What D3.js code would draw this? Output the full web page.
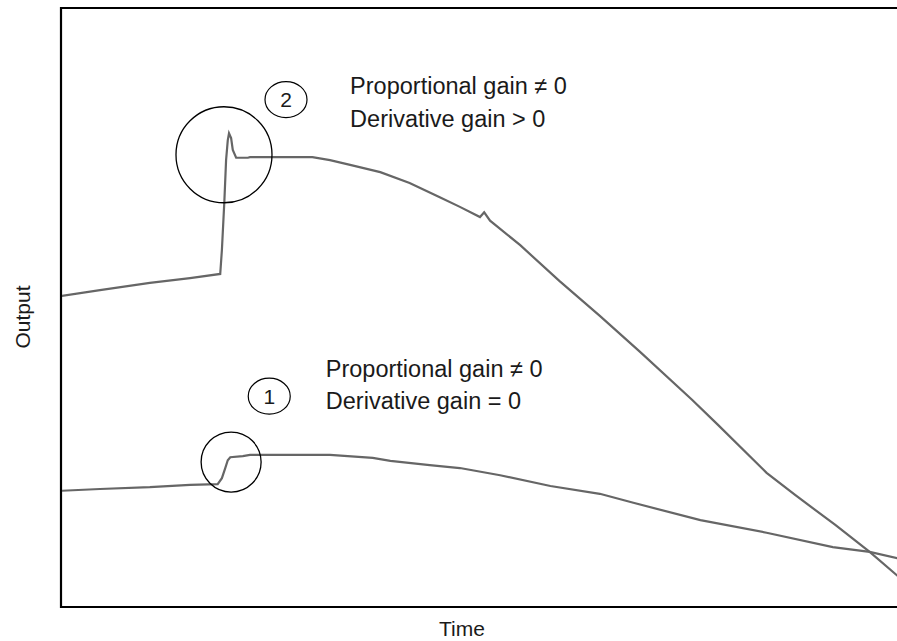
<!DOCTYPE html>
<html>
<head>
<meta charset="utf-8">
<script src="https://cdn.jsdelivr.net/npm/d3@7"></script>
<style>
  html, body { margin: 0; padding: 0; background: #fff; overflow: hidden; }
  svg { display: block; overflow: hidden; }
  text { font-family: "Liberation Sans", Arial, sans-serif; fill: #1a1a1a; }
</style>
</head>
<body>
<script>
// ---- data (time and output in arbitrary units, 0-100) ----
const timeD = [0, 4.65, 10.6, 15.4, 19.0, 19.2, 19.5, 19.7, 19.9, 20.05, 20.3, 20.5, 20.9, 22.3, 22.55, 30.0, 32.1, 34.5, 38.1, 41.6, 45.2, 47.6, 50.0, 50.5, 51.2, 54.8, 59.5, 64.3, 69.1, 75.3, 78.4, 84.2, 87.6, 92.4, 96.5, 100];
const outputD = [51.9, 52.9, 54.1, 54.9, 55.6, 59.6, 67.9, 74.6, 77.9, 79.1, 78.3, 76.3, 75.0, 75.0, 75.1, 75.1, 74.6, 73.8, 72.6, 70.8, 68.4, 66.8, 65.1, 65.9, 64.5, 60.4, 54.4, 48.6, 42.6, 34.6, 30.4, 22.4, 18.7, 13.7, 9.2, 5.0];

const timeP = [0, 4.65, 10.6, 15.4, 18.7, 19.2, 19.6, 19.9, 20.2, 21.7, 22.55, 32.1, 37.2, 39.3, 44.0, 47.6, 52.4, 58.4, 64.3, 68.3, 76.3, 84.2, 92.1, 96.5, 100];
const outputP = [19.4, 19.7, 20.0, 20.4, 20.5, 21.5, 23.2, 24.5, 25.0, 25.2, 25.4, 25.4, 24.9, 24.4, 23.7, 23.2, 22.0, 20.2, 18.9, 17.4, 14.5, 12.4, 10.0, 9.2, 8.1];

// annotations
const highlightT = [19.45, 20.3];
const highlightV = [75.5, 24.2];
const highlightR = [48, 30];
const badgeLabels = ["2", "1"];
const badgeT = [26.85, 24.85];
const badgeV = [84.7, 35.2];
const noteLines = [["Proportional gain \u2260 0", "Derivative gain > 0"], ["Proportional gain \u2260 0", "Derivative gain = 0"]];
const noteT = [34.5, 31.6];
const noteV = [[85.6, 80.1], [38.4, 33.1]];

const W = 897, H = 641;
const svg = d3.select("body").append("svg").attr("width", W).attr("height", H);

const x = d3.scaleLinear().domain([0, 100]).range([61, 899]);
const y = d3.scaleLinear().domain([0, 100]).range([607, 8]);

// frame: left, top, bottom (right edge runs off the picture)
const frame = d3.path();
frame.moveTo(x(100) + 10, y(100));
frame.lineTo(x(0), y(100));
frame.lineTo(x(0), y(0));
frame.lineTo(x(100) + 10, y(0));
svg.append("path").attr("d", frame.toString())
  .attr("fill", "none").attr("stroke", "#000").attr("stroke-width", 2.2);

const line = d3.line().x(d => x(d[0])).y(d => y(d[1]));
svg.append("clipPath").attr("id", "c").append("rect")
  .attr("x", x(0) + 1).attr("y", y(100) + 1).attr("width", x(100) - x(0) + 5).attr("height", y(0) - y(100) - 2);

const series = [d3.zip(timeD, outputD), d3.zip(timeP, outputP)];
svg.append("g").attr("clip-path", "url(#c)")
  .selectAll("path").data(series).join("path")
  .attr("d", line)
  .attr("fill", "none").attr("stroke", "#666").attr("stroke-width", 2.2)
  .attr("stroke-linejoin", "miter");

// highlight circles
highlightT.forEach((t, i) => {
  svg.append("circle").attr("cx", x(t)).attr("cy", y(highlightV[i])).attr("r", highlightR[i])
    .attr("fill", "none").attr("stroke", "#000").attr("stroke-width", 1.3);
});

// numbered badges
badgeLabels.forEach((lab, i) => {
  svg.append("ellipse").attr("cx", x(badgeT[i])).attr("cy", y(badgeV[i])).attr("rx", 21).attr("ry", 18)
    .attr("fill", "none").attr("stroke", "#000").attr("stroke-width", 1.2);
  svg.append("text").attr("x", x(badgeT[i])).attr("y", y(badgeV[i]))
    .attr("text-anchor", "middle").attr("dy", "0.36em").attr("font-size", 21).text(lab);
});

// notes
noteLines.forEach((lines, i) => {
  lines.forEach((s, j) => {
    svg.append("text").attr("x", x(noteT[i])).attr("y", y(noteV[i][j]))
      .attr("font-size", 23.5).text(s);
  });
});

// axis titles
svg.append("text").attr("x", 462).attr("y", 636).attr("text-anchor", "middle").attr("font-size", 21).text("Time");
svg.append("text").attr("transform", "translate(30,317) rotate(-90)").attr("text-anchor", "middle").attr("font-size", 21).text("Output");
</script>
</body>
</html>
